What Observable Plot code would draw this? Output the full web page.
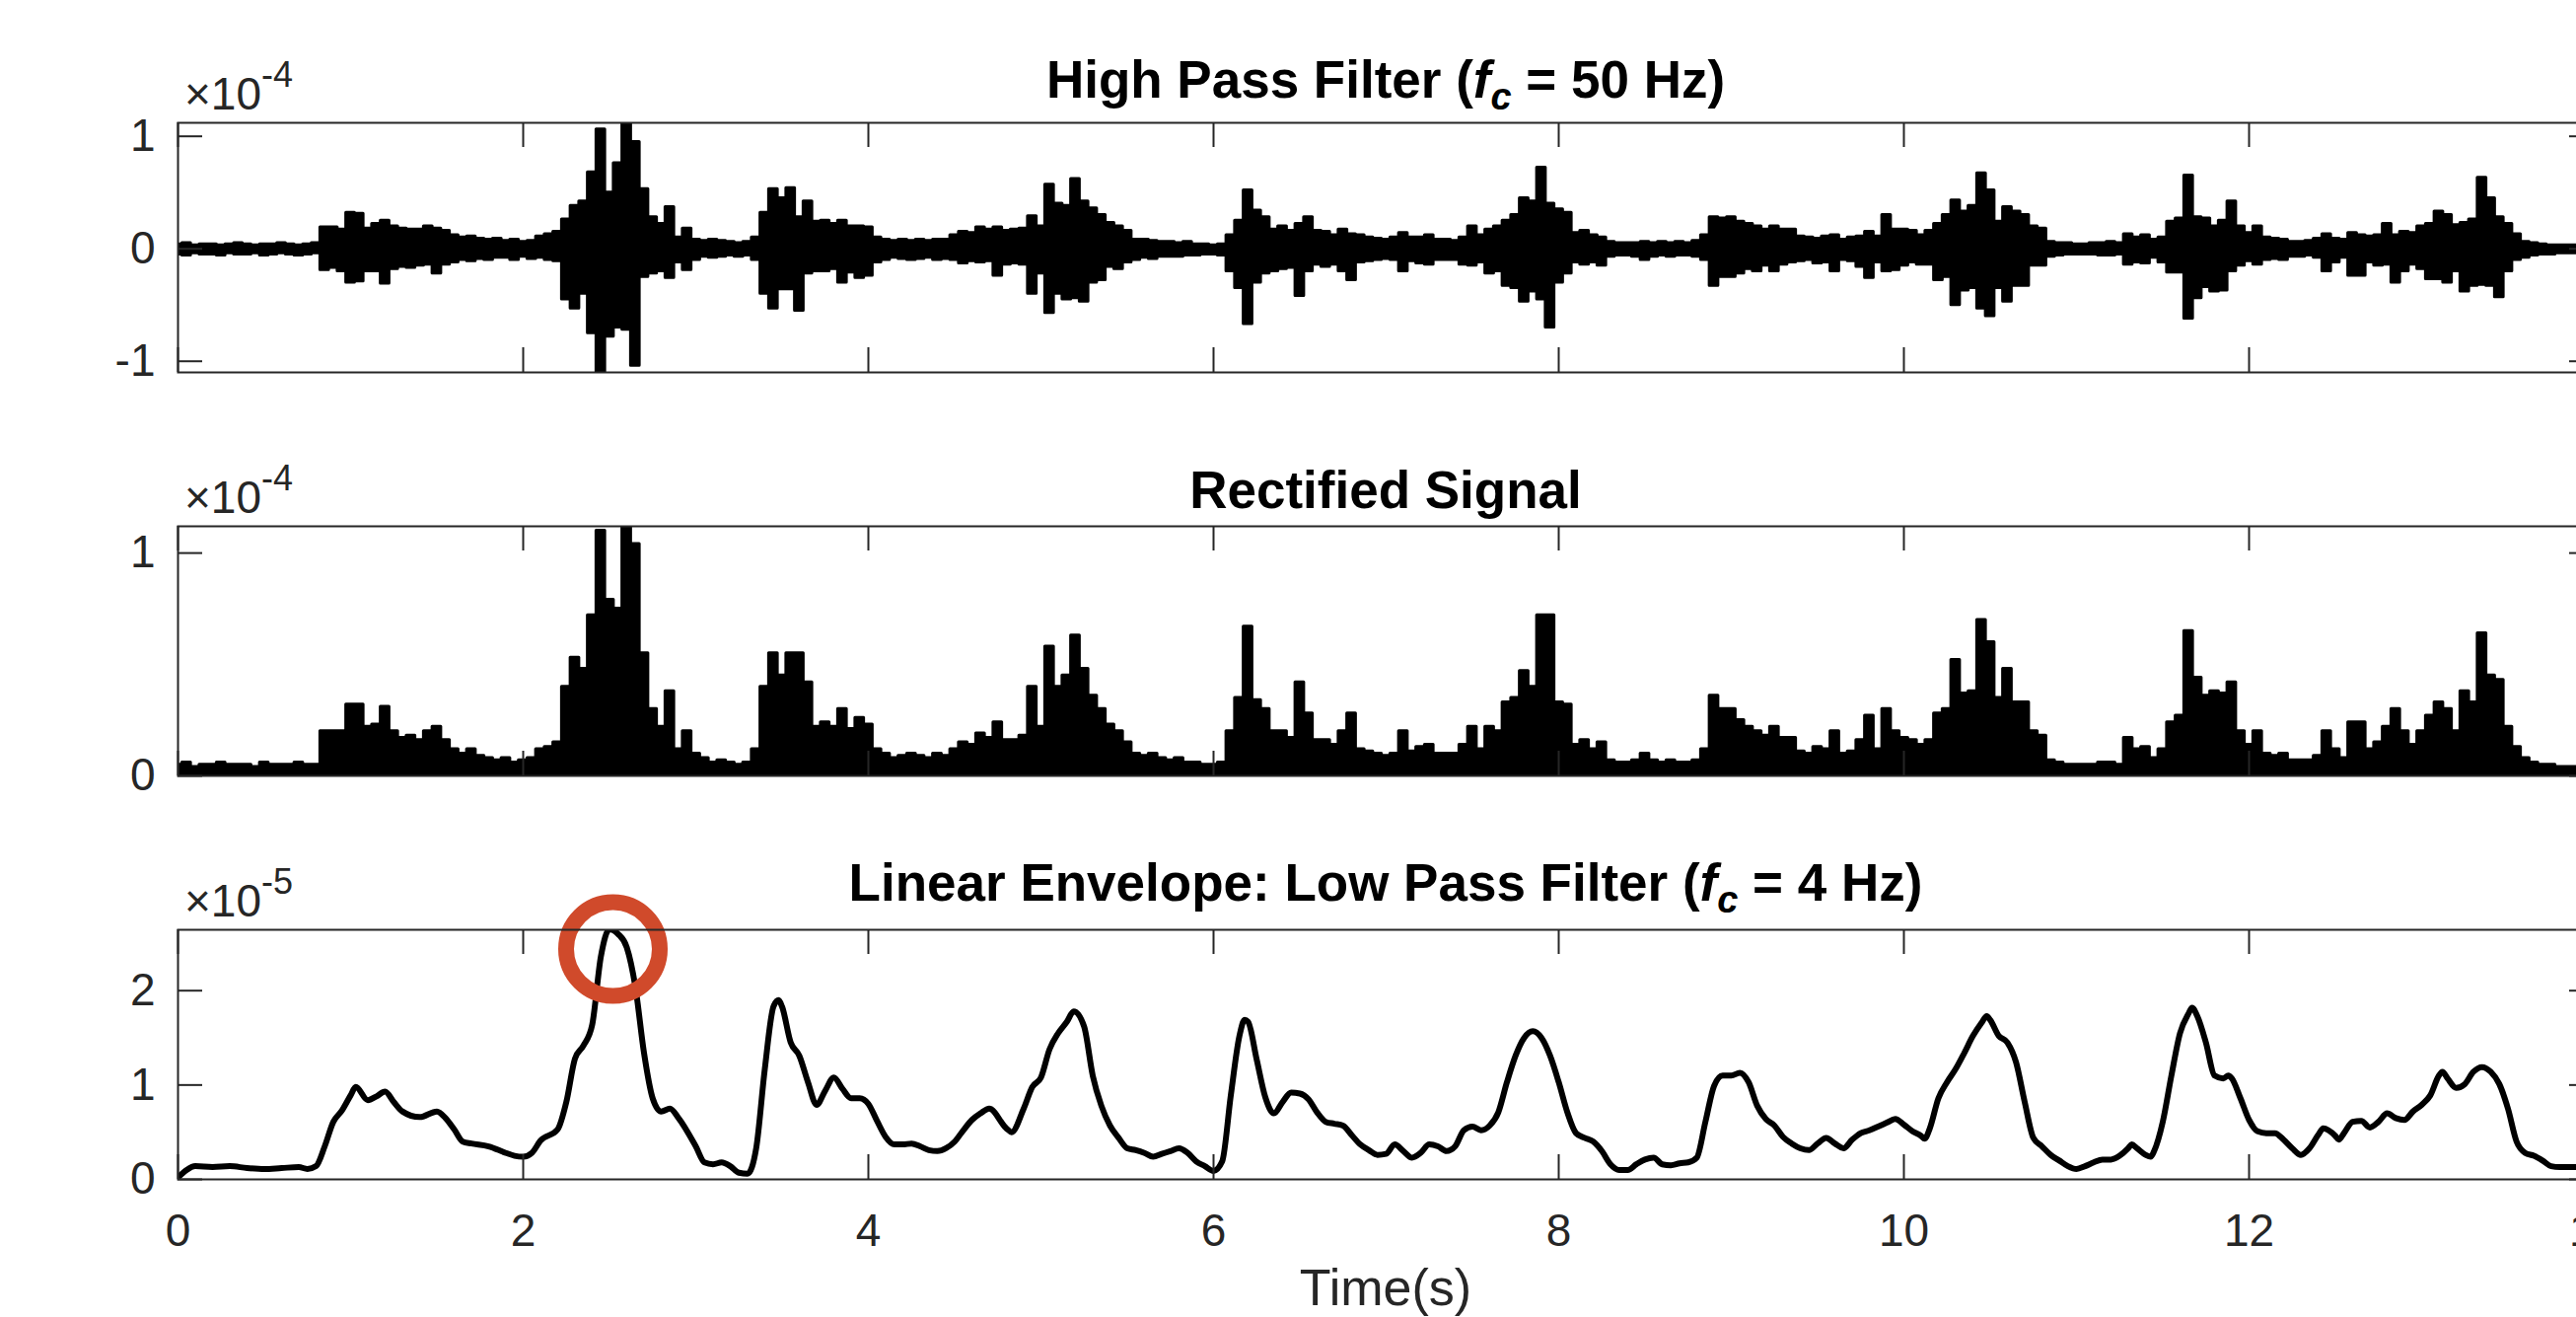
<!DOCTYPE html>
<html><head><meta charset="utf-8">
<script src="https://cdn.jsdelivr.net/npm/d3@7"></script>
<script src="https://cdn.jsdelivr.net/npm/@observablehq/plot@0.6"></script>
<style>
html,body{margin:0;padding:0;background:#fff;overflow:hidden;}
#chart{width:2612px;height:1335px;overflow:hidden;position:relative;background:#fff;}
#chart svg{display:block;max-width:none !important;}
</style></head><body><div id="chart"></div>
<script>
// ---------------- data ----------------
const sampleStep = 0.05;            // s between samples of the filtered / rectified traces
const xTicks = [0, 2, 4, 6, 8, 10, 12, 14];

// High-pass filtered EMG: upper and lower envelope of the trace (x 1e-4)
const highPassUpper = [
0.04,0.05,0.03,0.04,0.04,0.03,0.04,0.05,0.04,0.03,
0.04,0.04,0.05,0.04,0.03,0.04,0.05,0.19,0.19,0.17,
0.32,0.31,0.18,0.22,0.25,0.20,0.18,0.17,0.17,0.20,
0.18,0.16,0.12,0.10,0.11,0.09,0.08,0.09,0.07,0.08,
0.06,0.07,0.11,0.13,0.15,0.26,0.38,0.42,0.68,1.06,
0.50,0.76,1.11,0.95,0.53,0.28,0.22,0.37,0.10,0.18,
0.08,0.07,0.08,0.07,0.06,0.05,0.06,0.10,0.32,0.53,
0.45,0.54,0.28,0.42,0.24,0.25,0.22,0.25,0.20,0.20,
0.19,0.10,0.08,0.07,0.08,0.07,0.08,0.07,0.08,0.08,
0.12,0.15,0.14,0.19,0.17,0.19,0.16,0.17,0.18,0.29,
0.20,0.57,0.40,0.38,0.62,0.42,0.36,0.30,0.23,0.20,
0.16,0.08,0.08,0.07,0.06,0.06,0.05,0.06,0.04,0.04,
0.03,0.04,0.12,0.25,0.52,0.34,0.28,0.17,0.20,0.16,
0.22,0.28,0.16,0.15,0.12,0.17,0.13,0.12,0.10,0.09,
0.08,0.10,0.14,0.10,0.10,0.12,0.08,0.08,0.07,0.10,
0.20,0.12,0.17,0.20,0.25,0.30,0.45,0.42,0.72,0.40,
0.35,0.32,0.14,0.16,0.12,0.10,0.06,0.05,0.05,0.05,
0.06,0.05,0.06,0.05,0.06,0.05,0.07,0.12,0.28,0.27,
0.28,0.24,0.22,0.20,0.17,0.20,0.17,0.17,0.11,0.10,
0.09,0.11,0.12,0.08,0.10,0.11,0.15,0.11,0.30,0.17,
0.17,0.16,0.12,0.16,0.22,0.30,0.43,0.33,0.38,0.67,
0.52,0.24,0.37,0.33,0.30,0.20,0.18,0.06,0.05,0.05,
0.04,0.04,0.05,0.05,0.06,0.05,0.13,0.10,0.12,0.08,
0.10,0.24,0.27,0.65,0.28,0.27,0.20,0.25,0.42,0.20,
0.14,0.20,0.10,0.09,0.08,0.06,0.06,0.07,0.09,0.13,
0.09,0.08,0.14,0.12,0.11,0.12,0.22,0.12,0.15,0.14,
0.20,0.22,0.33,0.30,0.21,0.23,0.26,0.63,0.45,0.28,
0.22,0.13,0.06,0.05,0.04,0.03,0.03,0.03,0.03,0.03,0.03
];
const highPassLower = [
-0.05,-0.06,-0.04,-0.05,-0.05,-0.06,-0.04,-0.05,-0.05,-0.04,
-0.06,-0.05,-0.04,-0.05,-0.06,-0.05,-0.04,-0.19,-0.17,-0.20,
-0.30,-0.29,-0.20,-0.20,-0.31,-0.18,-0.16,-0.17,-0.15,-0.14,
-0.22,-0.14,-0.12,-0.10,-0.11,-0.09,-0.10,-0.08,-0.08,-0.10,
-0.07,-0.09,-0.08,-0.10,-0.11,-0.45,-0.53,-0.40,-0.75,-1.10,
-0.78,-0.70,-0.72,-1.04,-0.25,-0.22,-0.20,-0.26,-0.12,-0.19,
-0.10,-0.07,-0.08,-0.07,-0.06,-0.07,-0.06,-0.10,-0.40,-0.53,
-0.36,-0.36,-0.55,-0.22,-0.20,-0.20,-0.18,-0.30,-0.21,-0.26,
-0.24,-0.12,-0.10,-0.08,-0.09,-0.10,-0.09,-0.08,-0.10,-0.09,
-0.10,-0.13,-0.11,-0.12,-0.11,-0.24,-0.14,-0.13,-0.14,-0.40,
-0.22,-0.57,-0.40,-0.45,-0.44,-0.47,-0.30,-0.28,-0.16,-0.18,
-0.12,-0.10,-0.08,-0.09,-0.07,-0.07,-0.07,-0.06,-0.06,-0.05,
-0.05,-0.06,-0.20,-0.35,-0.67,-0.30,-0.22,-0.20,-0.18,-0.17,
-0.42,-0.20,-0.14,-0.16,-0.14,-0.20,-0.28,-0.12,-0.11,-0.10,
-0.09,-0.10,-0.20,-0.11,-0.13,-0.14,-0.10,-0.10,-0.10,-0.14,
-0.15,-0.12,-0.22,-0.20,-0.33,-0.35,-0.47,-0.38,-0.45,-0.70,
-0.30,-0.22,-0.12,-0.14,-0.12,-0.15,-0.07,-0.06,-0.06,-0.07,
-0.10,-0.07,-0.06,-0.07,-0.06,-0.06,-0.07,-0.10,-0.33,-0.25,
-0.25,-0.22,-0.18,-0.20,-0.15,-0.20,-0.14,-0.12,-0.11,-0.10,
-0.13,-0.12,-0.20,-0.10,-0.11,-0.16,-0.26,-0.12,-0.20,-0.19,
-0.15,-0.12,-0.14,-0.14,-0.28,-0.25,-0.50,-0.37,-0.35,-0.53,
-0.60,-0.35,-0.47,-0.33,-0.33,-0.15,-0.15,-0.07,-0.06,-0.05,
-0.05,-0.05,-0.05,-0.06,-0.06,-0.05,-0.14,-0.12,-0.13,-0.08,
-0.12,-0.21,-0.21,-0.62,-0.44,-0.34,-0.38,-0.37,-0.20,-0.15,
-0.11,-0.14,-0.10,-0.09,-0.10,-0.07,-0.07,-0.06,-0.08,-0.20,
-0.12,-0.08,-0.24,-0.24,-0.12,-0.15,-0.14,-0.30,-0.20,-0.14,
-0.18,-0.27,-0.27,-0.30,-0.20,-0.38,-0.33,-0.32,-0.33,-0.43,
-0.20,-0.10,-0.08,-0.06,-0.05,-0.05,-0.04,-0.04,-0.04,-0.04,-0.04
];
// Rectified signal: peak height per sample (x 1e-4)
const rectifiedValues = [
0.05,0.06,0.04,0.05,0.05,0.06,0.05,0.05,0.05,0.04,
0.06,0.05,0.05,0.05,0.06,0.05,0.05,0.20,0.20,0.20,
0.32,0.32,0.22,0.23,0.31,0.20,0.17,0.18,0.16,0.20,
0.22,0.16,0.12,0.10,0.12,0.09,0.08,0.07,0.08,0.06,
0.07,0.08,0.12,0.13,0.15,0.40,0.53,0.48,0.72,1.10,
0.79,0.75,1.12,1.04,0.55,0.30,0.22,0.38,0.12,0.20,
0.10,0.08,0.06,0.07,0.06,0.05,0.06,0.12,0.40,0.55,
0.45,0.55,0.55,0.42,0.22,0.24,0.22,0.30,0.21,0.26,
0.23,0.12,0.10,0.08,0.09,0.10,0.09,0.08,0.10,0.09,
0.12,0.15,0.14,0.19,0.17,0.24,0.16,0.16,0.18,0.40,
0.22,0.58,0.40,0.45,0.63,0.48,0.36,0.30,0.23,0.20,
0.15,0.10,0.09,0.10,0.08,0.07,0.08,0.06,0.06,0.05,
0.05,0.06,0.20,0.35,0.67,0.34,0.30,0.20,0.20,0.17,
0.42,0.28,0.16,0.16,0.14,0.20,0.28,0.12,0.11,0.10,
0.09,0.10,0.20,0.11,0.13,0.14,0.10,0.10,0.10,0.14,
0.22,0.12,0.22,0.20,0.33,0.35,0.47,0.40,0.72,0.72,
0.33,0.32,0.14,0.16,0.12,0.15,0.07,0.06,0.06,0.07,
0.10,0.07,0.06,0.07,0.06,0.06,0.07,0.12,0.36,0.30,
0.30,0.25,0.22,0.20,0.18,0.22,0.17,0.17,0.11,0.10,
0.13,0.12,0.20,0.10,0.11,0.16,0.27,0.12,0.30,0.20,
0.17,0.16,0.14,0.16,0.28,0.30,0.52,0.37,0.38,0.70,
0.60,0.35,0.48,0.33,0.33,0.20,0.18,0.07,0.06,0.05,
0.05,0.05,0.05,0.06,0.06,0.05,0.17,0.12,0.13,0.08,
0.12,0.24,0.27,0.65,0.44,0.36,0.38,0.37,0.42,0.20,
0.14,0.20,0.10,0.09,0.10,0.07,0.07,0.07,0.09,0.20,
0.12,0.08,0.24,0.24,0.12,0.15,0.22,0.30,0.20,0.14,
0.20,0.27,0.33,0.30,0.20,0.38,0.33,0.64,0.45,0.43,
0.22,0.13,0.08,0.06,0.05,0.05,0.04,0.04,0.04,0.04,0.04
];
// Linear envelope: [time (s), value (x 1e-5)]
const envelopeSamples = [
[0,0.02],[0.05,0.10],[0.1,0.14],[0.2,0.13],[0.3,0.14],[0.4,0.12],[0.5,0.11],[0.6,0.12],[0.7,0.13],[0.75,0.11],
[0.8,0.14],[0.85,0.35],[0.9,0.61],[0.95,0.73],[1.0,0.89],[1.03,0.98],[1.1,0.84],[1.15,0.88],[1.2,0.93],[1.25,0.82],
[1.3,0.72],[1.4,0.66],[1.5,0.72],[1.55,0.65],[1.6,0.53],[1.65,0.40],[1.7,0.38],[1.8,0.35],[1.9,0.28],[1.95,0.25],
[2.0,0.24],[2.05,0.28],[2.1,0.41],[2.2,0.53],[2.25,0.82],[2.3,1.28],[2.35,1.42],[2.4,1.64],[2.45,2.36],[2.5,2.65],
[2.55,2.60],[2.6,2.46],[2.65,2.04],[2.7,1.34],[2.75,0.86],[2.8,0.72],[2.85,0.75],[2.9,0.65],[3.0,0.35],[3.05,0.18],
[3.1,0.16],[3.15,0.18],[3.2,0.14],[3.25,0.07],[3.3,0.06],[3.35,0.33],[3.4,1.17],[3.45,1.83],[3.48,1.90],[3.5,1.83],
[3.55,1.45],[3.6,1.31],[3.65,1.03],[3.7,0.79],[3.75,0.94],[3.8,1.08],[3.85,0.96],[3.9,0.86],[3.95,0.86],[4.0,0.80],
[4.05,0.62],[4.1,0.45],[4.15,0.37],[4.2,0.37],[4.25,0.38],[4.3,0.35],[4.35,0.31],[4.4,0.30],[4.45,0.33],[4.5,0.40],
[4.55,0.52],[4.6,0.63],[4.65,0.70],[4.7,0.75],[4.8,0.54],[4.83,0.50],[4.9,0.75],[4.95,0.98],[5.0,1.08],[5.05,1.38],
[5.1,1.55],[5.15,1.67],[5.19,1.78],[5.25,1.62],[5.3,1.10],[5.35,0.78],[5.4,0.57],[5.45,0.44],[5.5,0.33],[5.55,0.31],
[5.6,0.28],[5.65,0.24],[5.7,0.27],[5.75,0.30],[5.8,0.33],[5.85,0.28],[5.9,0.19],[5.95,0.14],[6.0,0.09],[6.05,0.19],
[6.1,0.89],[6.15,1.52],[6.18,1.69],[6.2,1.67],[6.25,1.27],[6.3,0.87],[6.35,0.70],[6.4,0.82],[6.45,0.92],[6.5,0.91],
[6.55,0.85],[6.6,0.71],[6.65,0.61],[6.7,0.59],[6.75,0.57],[6.8,0.47],[6.85,0.37],[6.9,0.31],[6.95,0.26],[7.0,0.27],
[7.05,0.37],[7.1,0.30],[7.15,0.23],[7.2,0.28],[7.25,0.37],[7.3,0.35],[7.35,0.30],[7.4,0.35],[7.45,0.52],[7.5,0.56],
[7.55,0.52],[7.6,0.57],[7.65,0.71],[7.7,1.03],[7.75,1.31],[7.8,1.50],[7.85,1.57],[7.9,1.50],[7.95,1.31],[8.0,1.03],
[8.05,0.71],[8.1,0.49],[8.15,0.44],[8.2,0.40],[8.25,0.30],[8.3,0.16],[8.35,0.10],[8.4,0.10],[8.45,0.16],[8.5,0.21],
[8.55,0.23],[8.6,0.16],[8.65,0.15],[8.7,0.17],[8.75,0.18],[8.8,0.23],[8.85,0.61],[8.9,0.99],[8.95,1.10],[9.0,1.10],
[9.05,1.13],[9.1,1.03],[9.15,0.78],[9.2,0.64],[9.25,0.57],[9.3,0.45],[9.35,0.38],[9.4,0.33],[9.45,0.31],[9.5,0.38],
[9.55,0.44],[9.6,0.38],[9.65,0.33],[9.7,0.42],[9.75,0.49],[9.8,0.52],[9.85,0.56],[9.9,0.60],[9.95,0.64],[10.0,0.58],
[10.05,0.51],[10.1,0.46],[10.12,0.43],[10.15,0.54],[10.2,0.86],[10.25,1.03],[10.3,1.17],[10.35,1.34],[10.4,1.52],[10.45,1.66],
[10.48,1.73],[10.5,1.69],[10.55,1.52],[10.6,1.45],[10.65,1.24],[10.7,0.82],[10.75,0.44],[10.8,0.35],[10.85,0.26],[10.9,0.20],
[10.95,0.14],[11.0,0.11],[11.05,0.14],[11.1,0.18],[11.15,0.21],[11.2,0.21],[11.25,0.25],[11.3,0.33],[11.32,0.37],[11.35,0.33],
[11.4,0.26],[11.43,0.24],[11.45,0.30],[11.5,0.61],[11.55,1.10],[11.6,1.55],[11.65,1.76],[11.67,1.82],[11.7,1.73],[11.75,1.45],
[11.8,1.10],[11.85,1.07],[11.88,1.10],[11.9,1.07],[11.95,0.86],[12.0,0.63],[12.05,0.51],[12.1,0.49],[12.15,0.49],[12.2,0.42],
[12.25,0.33],[12.3,0.26],[12.35,0.33],[12.4,0.47],[12.43,0.54],[12.5,0.46],[12.52,0.42],[12.55,0.49],[12.6,0.61],[12.65,0.62],
[12.7,0.55],[12.75,0.61],[12.8,0.70],[12.85,0.65],[12.9,0.63],[12.95,0.72],[13.0,0.79],[13.05,0.89],[13.1,1.10],[13.12,1.14],
[13.15,1.07],[13.2,0.97],[13.25,1.01],[13.3,1.14],[13.35,1.19],[13.4,1.14],[13.45,1.01],[13.5,0.75],[13.55,0.40],[13.6,0.28],
[13.65,0.25],[13.7,0.20],[13.75,0.14],[13.8,0.13],[13.85,0.13],[13.9,0.13],[14.0,0.14]
];
// highlighted peak of the envelope (time s, value x 1e-5)
const peakHighlight = [[2.52, 2.44]];

const highPassTicks = [-1, 0, 1];
const rectifiedTicks = [0, 1];
const envelopeTicks = [0, 1, 2];
const highPassExponent = -4, rectifiedExponent = -4, envelopeExponent = -5;
const highPassLimits = [-1.099, 1.12];
const rectifiedLimits = [0, 1.12];
const envelopeLimits = [0, 2.645];

// ---------------- layout / style ----------------
const W = 2650, ML = 180, MR = 20, MT = 124, FH = 253, TICK = 25;
const FW = W - ML - MR;
const AXIS = "#262626";
const FONT = '"Liberation Sans", Arial, Helvetica, sans-serif';
const chart = document.getElementById("chart");

function panel({dataMarks, limits, ticks, exponent, bottom}) {
  const s = Math.pow(10, exponent);
  const MB = bottom ? 140 : 32;
  const yt = ticks.map(d => d * s);
  const marks = [
    ...dataMarks(s),
    Plot.frame({stroke: AXIS, strokeWidth: 2}),
    Plot.ruleX(xTicks, {x: d => d, stroke: AXIS, strokeWidth: 2, insetBottom: FH - TICK}),
    Plot.ruleX(xTicks, {x: d => d, stroke: AXIS, strokeWidth: 2, insetTop: FH - TICK}),
    Plot.ruleY(yt, {y: d => d, stroke: AXIS, strokeWidth: 2, insetRight: FW - TICK}),
    Plot.ruleY(yt, {y: d => d, stroke: AXIS, strokeWidth: 2, insetLeft: FW - TICK}),
    Plot.axisY({ticks: yt, anchor: "left", tickSize: 0, tickPadding: 23, label: null,
      tickFormat: d => String(Math.round(d / s))})
  ];
  if (bottom) marks.push(Plot.axisX({ticks: xTicks, anchor: "bottom", tickSize: 0, tickPadding: 35, label: null,
      tickFormat: d => String(d)}));
  const svg = Plot.plot({
    width: W, height: MT + FH + MB,
    marginLeft: ML, marginRight: MR, marginTop: MT, marginBottom: MB,
    style: {fontFamily: FONT, fontSize: "46px", color: AXIS, background: "white", maxWidth: "none", overflow: "hidden"},
    x: {domain: [0, 14], axis: null, label: null},
    y: {domain: limits.map(d => d * s), axis: null, label: null},
    marks
  });
  chart.appendChild(svg);
  return svg;
}

function addTitle(svg, baseline, pre, post) {
  const t = d3.select(svg).append("text")
    .attr("x", (ML + W - MR) / 2).attr("y", baseline)
    .attr("text-anchor", "middle").attr("font-family", FONT)
    .attr("font-weight", "bold").attr("font-size", 53).attr("fill", "#000");
  t.append("tspan").text(pre);
  if (post != null) {
    t.append("tspan").attr("font-style", "italic").text("f");
    t.append("tspan").attr("font-style", "italic").attr("font-size", 38).attr("dy", 12).text("c");
    t.append("tspan").attr("dy", -12).text(post);
  }
}
function addExponent(svg, exponent) {
  const t = d3.select(svg).append("text")
    .attr("x", 187).attr("y", 111).attr("text-anchor", "start").attr("font-family", FONT)
    .attr("font-size", 46).attr("fill", AXIS);
  t.append("tspan").text("\u00d710");
  t.append("tspan").attr("dy", -23).attr("font-size", 36).text(String(exponent));
}

// ---------------- panel 1: high pass ----------------
const p1 = panel({
  limits: highPassLimits, ticks: highPassTicks, exponent: highPassExponent,
  dataMarks: s => {
    const data = highPassUpper.map((hi, i) => ({t: i * sampleStep, hi: hi * s, lo: highPassLower[i] * s}));
    return [Plot.areaY(data, {x: "t", y1: "lo", y2: "hi", curve: "step", fill: "black", stroke: "black", strokeWidth: 3, clip: true})];
  }
});
addTitle(p1, 99, "High Pass Filter (", " = 50 Hz)");
addExponent(p1, highPassExponent);

// ---------------- panel 2: rectified ----------------
const p2 = panel({
  limits: rectifiedLimits, ticks: rectifiedTicks, exponent: rectifiedExponent,
  dataMarks: s => {
    const data = rectifiedValues.map((r, i) => ({t: i * sampleStep, r: r * s}));
    return [Plot.areaY(data, {x: "t", y1: 0, y2: "r", curve: "step", fill: "black", stroke: "black", strokeWidth: 3, clip: true})];
  }
});
addTitle(p2, 106, "Rectified Signal", null);
addExponent(p2, rectifiedExponent);

// ---------------- panel 3: linear envelope ----------------
const p3 = panel({
  limits: envelopeLimits, ticks: envelopeTicks, exponent: envelopeExponent, bottom: true,
  dataMarks: s => {
    const data = envelopeSamples.map(([t, v]) => ({t, v: v * s}));
    const hl = peakHighlight.map(([t, v]) => ({t, v: v * s}));
    return [
      Plot.lineY(data, {x: "t", y: "v", curve: "monotone-x", stroke: "black", strokeWidth: 6, clip: true}),
      Plot.dot(hl, {x: "t", y: "v", r: 47.5, stroke: "#d04a2b", strokeWidth: 16, fill: "none"})
    ];
  }
});
addTitle(p3, 95, "Linear Envelope: Low Pass Filter (", " = 4 Hz)");
addExponent(p3, envelopeExponent);
d3.select(p3).append("text")
  .attr("x", (ML + W - MR) / 2).attr("y", 505).attr("text-anchor", "middle")
  .attr("font-family", FONT).attr("font-size", 52).attr("fill", AXIS).text("Time(s)");
</script>
</body></html>
